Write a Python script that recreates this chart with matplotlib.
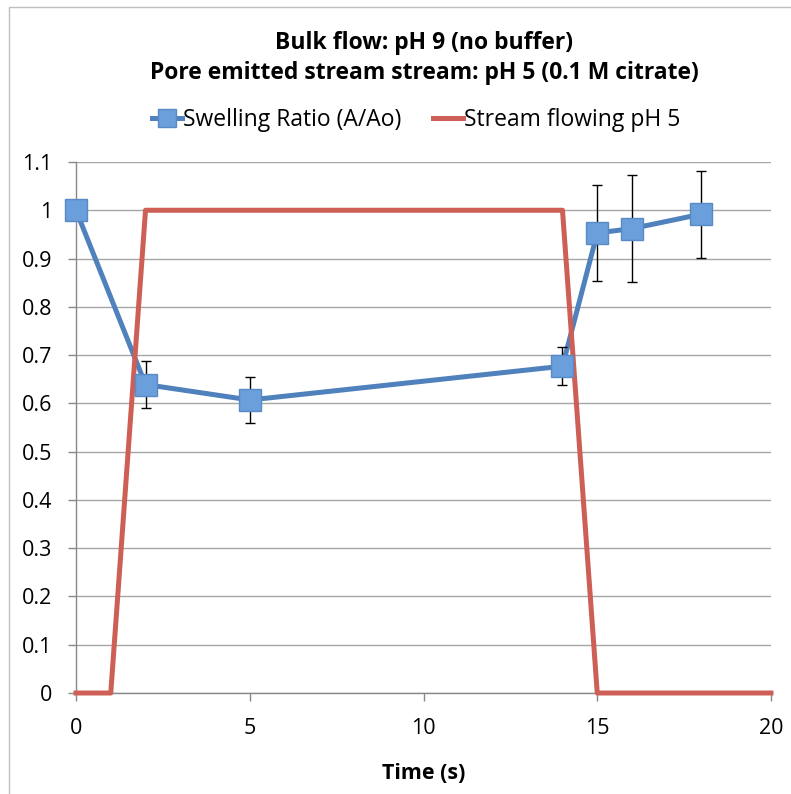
import matplotlib
matplotlib.use("Agg")
import matplotlib.pyplot as plt
from matplotlib.patches import Rectangle

# Swelling ratio measurements
t_swell = [0, 2, 5, 14, 15, 16, 18]
swell = [1.0, 0.639, 0.607, 0.677, 0.953, 0.962, 0.992]
swell_err = [0.0, 0.049, 0.047, 0.04, 0.10, 0.11, 0.09]

# Stream state (1 = pH 5 stream flowing)
t_stream = list(range(0, 21))
stream = [0, 0] + [1] * 13 + [0] * 6

x_ticks = [0, 5, 10, 15, 20]
y_ticks = [0, 0.1, 0.2, 0.3, 0.4, 0.5, 0.6, 0.7, 0.8, 0.9, 1.0, 1.1]
y_tick_labels = ["0", "0.1", "0.2", "0.3", "0.4", "0.5", "0.6", "0.7", "0.8", "0.9", "1", "1.1"]

plt.rcParams['font.family'] = ['Open Sans', 'DejaVu Sans']

fig = plt.figure(figsize=(7.91, 7.94), dpi=100)
ax = fig.add_axes([0.0961, 0.1272, 0.8786, 0.6688])

# outer chart frame
fig.patches.append(Rectangle((9 / 791, -0.1), 1.2, 1 - 7 / 794 + 0.1, transform=fig.transFigure,
                             fill=False, edgecolor="#bfbfbf", linewidth=1))

blue = "#4F81BD"
red = "#CD5F57"
mface = "#6A9FDB"

ax.plot(t_swell, swell, color=blue, linewidth=3.6, zorder=3, solid_capstyle="round")
ax.plot(t_stream, stream, color=red, linewidth=3.6, zorder=4, clip_on=False)
ax.errorbar(t_swell, swell, yerr=swell_err, fmt="none", ecolor="black", elinewidth=1,
            capsize=3.5, capthick=1, zorder=5)
ax.plot(t_swell, swell, linestyle="none", marker="s", markersize=15.5, clip_on=False,
        markerfacecolor=mface, markeredgecolor="#5A8AC6", markeredgewidth=1, zorder=6)

# legend proxies
h1, = ax.plot([], [], color=blue, linewidth=3.6, marker="s", markersize=13,
              markerfacecolor=mface, markeredgecolor="#5A8AC6")
h2, = ax.plot([], [], color=red, linewidth=3.6)
fig.legend([h1, h2], ["Swelling Ratio (A/Ao)", "Stream flowing pH 5"], loc="center",
           bbox_to_anchor=(0.526, 0.849), ncol=2, frameon=False, fontsize=16.5,
           handlelength=1.3, handletextpad=0.05, columnspacing=1.4)

fig.text(0.536, 0.946, "Bulk flow: pH 9 (no buffer)", ha="center", va="center",
         fontsize=16.5, fontweight="bold")
fig.text(0.536, 0.908, "Pore emitted stream stream: pH 5 (0.1 M citrate)", ha="center",
         va="center", fontsize=16.5, fontweight="bold")

ax.set_xlim(0, 20)
ax.set_ylim(0, 1.1)
ax.set_xticks(x_ticks)
ax.set_yticks(y_ticks)
ax.set_yticklabels(y_tick_labels)
ax.tick_params(axis="both", labelsize=15.5, color="#888888", length=6, width=1)
ax.tick_params(axis="x", pad=12)
ax.tick_params(axis="y", pad=11)
ax.set_xlabel("Time (s)", fontsize=15.5, fontweight="bold", labelpad=17)

ax.grid(axis="y", color="#a6a6a6", linewidth=1)
ax.set_axisbelow(True)
for s in ["top", "right"]:
    ax.spines[s].set_visible(False)
for s in ["left", "bottom"]:
    ax.spines[s].set_color("#888888")
    ax.spines[s].set_linewidth(1)

fig.savefig("out.png", dpi=100)
